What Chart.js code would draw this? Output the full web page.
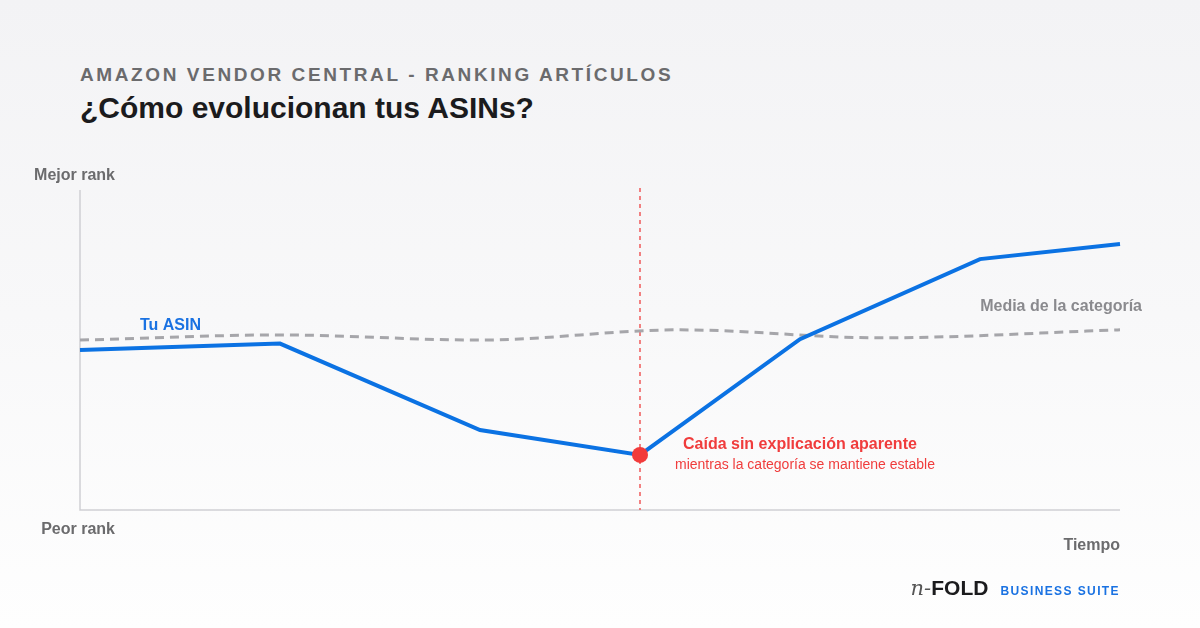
<!DOCTYPE html>
<html>
<head>
<meta charset="utf-8">
<script src="https://cdn.jsdelivr.net/npm/chart.js@4.4.1/dist/chart.umd.min.js"></script>
<style>
  html, body { margin: 0; padding: 0; }
  body {
    width: 1200px; height: 628px; overflow: hidden; position: relative;
    background: linear-gradient(180deg, #f3f3f5 0%, #f8f8f9 50%, #fefefe 100%);
    font-family: "Liberation Sans", Arial, sans-serif;
  }
  .kicker {
    position: absolute; left: 80px; top: 64px;
    font-size: 19px; font-weight: 700; letter-spacing: 2.6px; color: #6b6b6d;
  }
  .title {
    position: absolute; left: 80px; top: 91px;
    font-size: 30px; font-weight: 700; color: #1b1b1d;
  }
  #wrap { position: absolute; left: 0; top: 0; width: 1200px; height: 628px; }
  .logo {
    position: absolute; right: 80px; top: 576px;
    display: flex; align-items: baseline; white-space: nowrap;
  }
  .logo .n { font-family: "DejaVu Serif", "Liberation Serif", serif; font-style: italic; font-size: 21px; color: #555; }
  .logo .fold { font-size: 21px; font-weight: 700; color: #1b1b1d; margin-right: 12px; }
  .logo .suite { font-size: 12px; font-weight: 700; color: #1a72e2; letter-spacing: 1.4px; }
</style>
</head>
<body>
<div class="kicker">AMAZON VENDOR CENTRAL - RANKING ARTÍCULOS</div>
<div class="title">¿Cómo evolucionan tus ASINs?</div>
<div id="wrap"><canvas id="chart"></canvas></div>
<div class="logo"><span class="n">n-</span><span class="fold">FOLD</span><span class="suite">BUSINESS SUITE</span></div>
<script>
// time position (0..1040) and rank score (0 = peor, 100 = mejor)
const asinTime = [0, 200, 400, 560, 720, 900, 1040];
const asinRank = [50, 52, 25, 17.2, 53.4, 78.4, 83.1];
const categoryTime = [0, 200, 400, 600, 800, 1040];
const categoryRank = [53.1, 54.7, 53.1, 56.3, 53.8, 56.3];
const dropTime = [560];
const dropRank = [17.2];

const toPoints = (xs, ys) => xs.map((x, i) => ({ x: x, y: ys[i] }));

const FONT = "'Liberation Sans', Arial, sans-serif";

const decor = {
  id: "decor",
  beforeDatasetsDraw(chart) {
    const { ctx, chartArea: a, scales: { x, y } } = chart;
    ctx.save();
    // axes
    ctx.strokeStyle = "#cfcfd3";
    ctx.lineWidth = 1.5;
    ctx.beginPath();
    ctx.moveTo(a.left, a.top);
    ctx.lineTo(a.left, a.bottom);
    ctx.lineTo(a.right, a.bottom);
    ctx.stroke();
    // red marker line
    const px = x.getPixelForValue(dropTime[0]);
    ctx.strokeStyle = "#f05a5a";
    ctx.lineWidth = 1.5;
    ctx.setLineDash([4, 4]);
    ctx.beginPath();
    ctx.moveTo(px, a.top - 2);
    ctx.lineTo(px, a.bottom);
    ctx.stroke();
    ctx.restore();
  },
  afterDatasetsDraw(chart) {
    const { ctx, chartArea: a, scales: { x, y } } = chart;
    ctx.save();
    ctx.textBaseline = "middle";
    ctx.font = "bold 16px " + FONT;
    ctx.fillStyle = "#6b6b6d";
    ctx.textAlign = "right";
    ctx.fillText("Mejor rank", a.left + 35, a.top - 14);
    ctx.fillText("Peor rank", a.left + 35, a.bottom + 20);
    ctx.fillText("Tiempo", a.right, a.bottom + 36);
    // series labels
    ctx.fillStyle = "#1a72e2";
    ctx.textAlign = "left";
    ctx.fillText("Tu ASIN", x.getPixelForValue(60), y.getPixelForValue(57.5));
    ctx.fillStyle = "#8a8a8e";
    ctx.textAlign = "right";
    ctx.fillText("Media de la categoría", a.right + 22, y.getPixelForValue(63.5));
    // annotation
    const dx = x.getPixelForValue(dropTime[0]);
    const dy = y.getPixelForValue(dropRank[0]);
    ctx.fillStyle = "#f03c3c";
    ctx.textAlign = "left";
    ctx.fillText("Caída sin explicación aparente", dx + 43, dy - 10);
    ctx.font = "14px " + FONT;
    ctx.fillText("mientras la categoría se mantiene estable", dx + 35, dy + 10);
    ctx.restore();
  }
};

new Chart(document.getElementById("chart"), {
  type: "line",
  data: {
    datasets: [
      {
        label: "Caída",
        data: toPoints(dropTime, dropRank),
        showLine: false,
        pointRadius: 8,
        pointBackgroundColor: "#f23b3b",
        pointBorderWidth: 0,
        order: 0
      },
      {
        label: "Tu ASIN",
        data: toPoints(asinTime, asinRank),
        borderColor: "#0b72e3",
        borderWidth: 4,
        pointRadius: 0,
        tension: 0,
        clip: false,
        order: 1
      },
      {
        label: "Media de la categoría",
        data: toPoints(categoryTime, categoryRank),
        borderColor: "#a6a6aa",
        borderWidth: 3,
        borderDash: [9, 6],
        pointRadius: 0,
        tension: 0.4,
        cubicInterpolationMode: "monotone",
        clip: false,
        order: 2
      }
    ]
  },
  options: {
    responsive: true,
    maintainAspectRatio: false,
    animation: false,
    layout: { padding: { left: 80, right: 80, top: 190, bottom: 118 } },
    plugins: { legend: { display: false }, tooltip: { enabled: false } },
    scales: {
      x: { type: "linear", min: 0, max: 1040, display: false },
      y: { min: 0, max: 100, display: false }
    }
  },
  plugins: [decor]
});
</script>
</body>
</html>
